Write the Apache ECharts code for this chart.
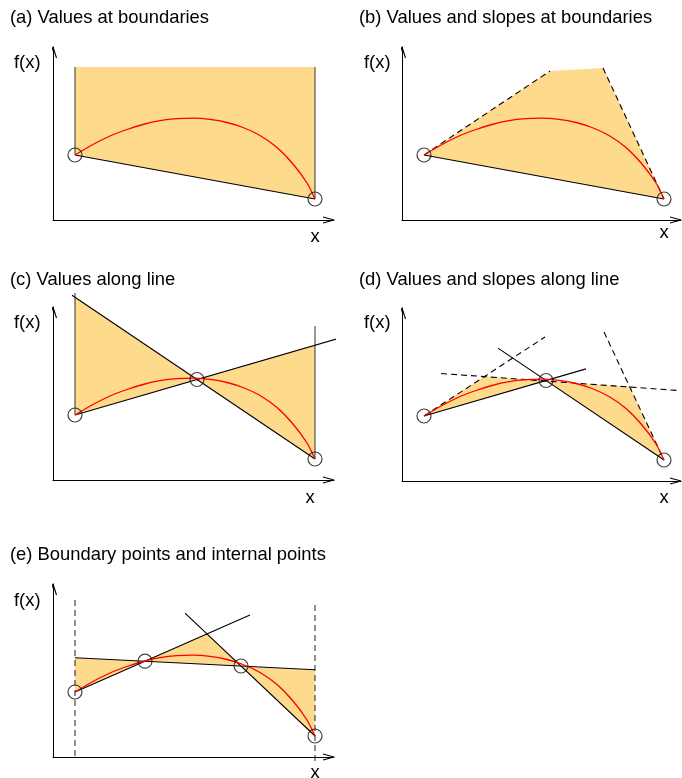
<!DOCTYPE html>
<html>
<head>
<meta charset="utf-8">
<script src="https://cdn.jsdelivr.net/npm/echarts@6/dist/echarts.min.js"></script>
<style>
  html, body { margin: 0; padding: 0; background: #fff; }
  #chart { width: 682px; height: 778px; }
</style>
</head>
<body>
<div id="chart"></div>
<script>
// ---- values (axis units, origin at the corner of the two arrows) ----
// the function f(x) that every panel approximates
const curveX = [22, 40, 57, 74, 90, 107, 124, 140, 157, 174, 190, 207, 224, 240, 254, 262];
const curveY = [65, 75.5, 84, 90.5, 95.5, 99.3, 101.3, 101.8, 100.6, 97.5, 92.5, 84.5, 72.5, 56, 37, 21];

// boundary samples
const boundX = [22, 262];
const boundF = [65, 21];

// (a) upper limit of the bound
const topA = 153;
// (b) corners where the boundary tangents stop
const cornersB = [[148, 149], [201, 152]];
// (c) interior sample and line extents
const midC = [144, 100.5];
const extC = { descFrom: 19, ascTo: 284, leftTop: 187, rightTop: 154 };
// (d) interior sample, tangent lines, chord extents
const midD = [144, 100.5];
const tanLeftEnd = [143, 144];
const tanMid = [[39, 107.5], [276, 90.5]];
const tanRightStart = [202, 149];
const extD = { ascTo: 184, descFrom: 96 };
// (e) two boundary and two interior samples
const ptsE = [[22, 65], [92, 95.8], [188, 91], [262, 21]];
const extE = { bTo: 197, cFrom: 132, leftTop: 157, rightTop: 152, rightBottom: -8 };

const titles = [
  '(a) Values at boundaries',
  '(b) Values and slopes at boundaries',
  '(c) Values along line',
  '(d) Values and slopes along line',
  '(e) Boundary points and internal points'
];
const yName = 'f(x)';
const xName = 'x';

// ---- layout ----
const FONT = '"Liberation Sans", Arial, Helvetica, sans-serif';
const FILL = '#FDDA8C';
const INK = '#000';
const RED = '#FF0000';
const AXIS_H = 173;
const grids = [
  { left: 53,  top: 220 - AXIS_H, w: 281 },
  { left: 402, top: 220 - AXIS_H, w: 279 },
  { left: 53,  top: 480 - AXIS_H, w: 281 },
  { left: 402, top: 481 - AXIS_H, w: 279 },
  { left: 53,  top: 757 - AXIS_H, w: 281 }
];
const titlePos = [[10, 18], [359, 18], [10, 280], [359, 280], [10, 555]];
const yNamePos = [[14, 63], [364, 63], [14, 323], [364, 323], [14, 601]];
const xNamePos = [[315, 237], [664, 233], [310, 498], [664, 498], [315, 773]];

// ---- geometry helpers ----
function yOn(p, q, x) { return p[1] + (q[1] - p[1]) * (x - p[0]) / (q[0] - p[0]); }
function cross(p1, q1, p2, q2) {
  const m1 = (q1[1] - p1[1]) / (q1[0] - p1[0]);
  const m2 = (q2[1] - p2[1]) / (q2[0] - p2[0]);
  const x = (p2[1] - p1[1] + m1 * p1[0] - m2 * p2[0]) / (m1 - m2);
  return [x, p1[1] + m1 * (x - p1[0])];
}

const series = [];
function line(g, pts, o) {
  o = o || {};
  series.push({
    type: 'line', xAxisIndex: g, yAxisIndex: g, data: pts, symbol: 'none',
    clip: false, silent: true, z: o.z || 3, smooth: o.smooth || false,
    lineStyle: { color: o.color || INK, width: o.width || 1.1, type: o.dash ? [6, 4] : 'solid' }
  });
}
function area(g, verts) {
  series.push({
    type: 'custom', xAxisIndex: g, yAxisIndex: g, clip: false, silent: true, z: 1,
    data: [verts[0]],
    renderItem: function (params, api) {
      return {
        type: 'polygon',
        shape: { points: verts.map(function (v) { return api.coord(v); }) },
        style: { fill: FILL }
      };
    }
  });
}
function rings(g, pts) {
  series.push({
    type: 'scatter', xAxisIndex: g, yAxisIndex: g, data: pts, symbol: 'circle', symbolSize: 14,
    clip: false, silent: true, z: 5,
    itemStyle: { color: 'rgba(0,0,0,0)', borderColor: '#111', borderWidth: 1.2 }
  });
}
const curve = curveX.map(function (x, i) { return [x, curveY[i]]; });
function fcurve(g) { line(g, curve, { color: RED, width: 1.3, smooth: 0.3, z: 4 }); }
function arrows(g) {
  const W = grids[g].w;
  line(g, [[W - 11, 3], [W, 0], [W - 11, -3]], { z: 2 });
  line(g, [[-3.5, AXIS_H - 11], [0, AXIS_H], [3.5, AXIS_H - 11]], { z: 2 });
}

const L = [boundX[0], boundF[0]];
const R = [boundX[1], boundF[1]];

// (a) values at boundaries
(function () {
  const g = 0;
  area(g, [[L[0], topA], [R[0], topA], R, L]);
  line(g, [[L[0], topA], L], { color: '#444' });
  line(g, [[R[0], topA], R], { color: '#444' });
  line(g, [L, R]);
  fcurve(g);
  rings(g, [L, R]);
})();

// (b) values and slopes at boundaries
(function () {
  const g = 1;
  const A = cornersB[0], B = cornersB[1];
  area(g, [L, A, B, R]);
  line(g, [L, A], { dash: true });
  line(g, [B, R], { dash: true });
  line(g, [L, R]);
  fcurve(g);
  rings(g, [L, R]);
})();

// (c) values along line
(function () {
  const g = 2, M = midC;
  area(g, [[L[0], yOn(M, R, L[0])], M, L]);
  area(g, [M, [R[0], yOn(L, M, R[0])], R]);
  line(g, [[L[0], extC.leftTop], L], { color: '#444' });
  line(g, [[R[0], extC.rightTop], R], { color: '#444' });
  line(g, [[extC.descFrom, yOn(M, R, extC.descFrom)], R]);
  line(g, [L, [extC.ascTo, yOn(L, M, extC.ascTo)]]);
  fcurve(g);
  rings(g, [L, M, R]);
})();

// (d) values and slopes along line
(function () {
  const g = 3, M = midD;
  const T1 = cross(L, tanLeftEnd, tanMid[0], tanMid[1]);
  const T2 = cross(tanMid[0], tanMid[1], tanRightStart, R);
  area(g, [L, T1, M]);
  area(g, [M, T2, R]);
  line(g, [L, tanLeftEnd], { dash: true });
  line(g, tanMid, { dash: true });
  line(g, [tanRightStart, R], { dash: true });
  line(g, [L, [extD.ascTo, yOn(L, M, extD.ascTo)]]);
  line(g, [[extD.descFrom, yOn(M, R, extD.descFrom)], R]);
  fcurve(g);
  rings(g, [L, M, R]);
})();

// (e) boundary points and internal points
(function () {
  const g = 4;
  const P0 = ptsE[0], P1 = ptsE[1], P2 = ptsE[2], P3 = ptsE[3];
  const T = cross(P0, P1, P2, P3);
  const aL = [P0[0], yOn(P1, P2, P0[0])];
  const aR = [P3[0], yOn(P1, P2, P3[0])];
  area(g, [aL, P1, P0]);
  area(g, [P1, T, P2]);
  area(g, [P2, aR, P3]);
  line(g, [[P0[0], extE.leftTop], [P0[0], 0]], { dash: true, color: '#333' });
  line(g, [[P3[0], extE.rightTop], [P3[0], extE.rightBottom]], { dash: true, color: '#333' });
  line(g, [aL, aR]);
  line(g, [P0, [extE.bTo, yOn(P0, P1, extE.bTo)]]);
  line(g, [[extE.cFrom, yOn(P2, P3, extE.cFrom)], P3]);
  fcurve(g);
  rings(g, ptsE);
})();

for (let i = 0; i < 5; i++) arrows(i);

const texts = [];
titles.forEach(function (t, i) { texts.push({ s: t, p: titlePos[i], align: 'left' }); });
yNamePos.forEach(function (p) { texts.push({ s: yName, p: p, align: 'left' }); });
xNamePos.forEach(function (p) { texts.push({ s: xName, p: p, align: 'center' }); });

const axisCommon = {
  type: 'value',
  axisTick: { show: false }, axisLabel: { show: false }, splitLine: { show: false },
  axisLine: { show: true, onZero: false, lineStyle: { color: INK, width: 1 } }
};

const chart = echarts.init(document.getElementById('chart'), null, { renderer: 'canvas' });
chart.setOption({
  animation: false,
  backgroundColor: '#fff',
  grid: grids.map(function (g) {
    return { left: g.left, top: g.top, width: g.w, height: AXIS_H, containLabel: false };
  }),
  xAxis: grids.map(function (g, i) {
    return Object.assign({}, axisCommon, { gridIndex: i, min: 0, max: g.w, position: 'bottom' });
  }),
  yAxis: grids.map(function (g, i) {
    return Object.assign({}, axisCommon, { gridIndex: i, min: 0, max: AXIS_H, position: 'left' });
  }),
  graphic: texts.map(function (t) {
    return {
      type: 'text', x: t.p[0], y: t.p[1], silent: true,
      style: { text: t.s, font: '18.4px ' + FONT, fill: '#000', align: t.align, verticalAlign: 'middle' }
    };
  }),
  series: series
});
</script>
</body>
</html>
